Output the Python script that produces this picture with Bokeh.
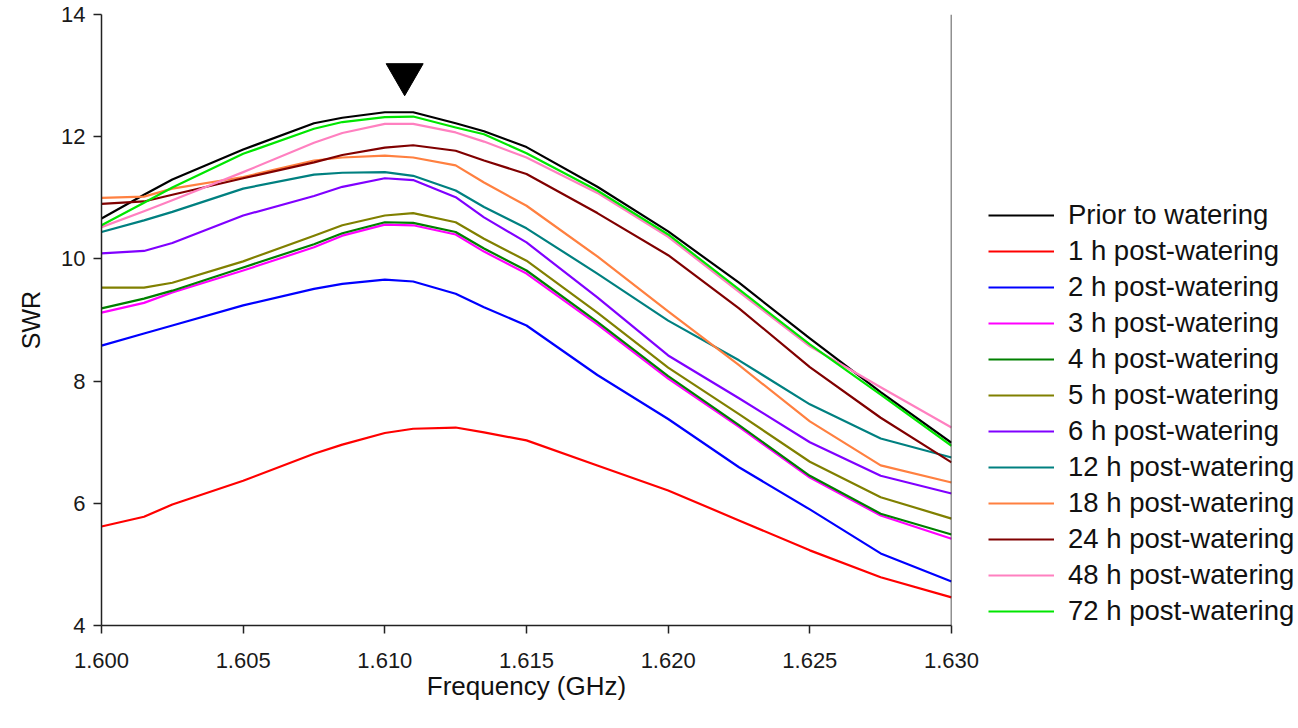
from bokeh.plotting import figure
from bokeh.models import Range1d, FixedTicker, PrintfTickFormatter, Legend, LegendItem, Span
from bokeh.embed import file_html
from bokeh.resources import INLINE

# ---- data ----
freq = [1.600, 1.6015, 1.6025, 1.605, 1.6075, 1.6085, 1.610, 1.611, 1.6125, 1.6135,
        1.615, 1.6175, 1.620, 1.6225, 1.625, 1.6275, 1.630]

prior = [10.66, 11.05, 11.30, 11.79, 12.22, 12.31, 12.40, 12.40, 12.22, 12.09, 11.83, 11.18, 10.45, 9.61, 8.70, 7.82, 6.99]
h1 = [5.62, 5.78, 5.98, 6.37, 6.81, 6.96, 7.15, 7.22, 7.24, 7.16, 7.03, 6.62, 6.21, 5.72, 5.23, 4.79, 4.46]
h2 = [8.58, 8.78, 8.91, 9.24, 9.51, 9.59, 9.66, 9.63, 9.43, 9.21, 8.91, 8.10, 7.38, 6.59, 5.90, 5.18, 4.72]
h3 = [9.12, 9.28, 9.45, 9.81, 10.19, 10.38, 10.56, 10.55, 10.40, 10.12, 9.76, 8.93, 8.04, 7.25, 6.42, 5.80, 5.42]
h4 = [9.19, 9.35, 9.48, 9.86, 10.24, 10.42, 10.60, 10.59, 10.44, 10.17, 9.81, 8.97, 8.08, 7.28, 6.45, 5.83, 5.49]
h5 = [9.53, 9.53, 9.61, 9.96, 10.38, 10.55, 10.71, 10.75, 10.60, 10.33, 9.97, 9.12, 8.22, 7.46, 6.68, 6.10, 5.75]
h6 = [10.09, 10.13, 10.26, 10.71, 11.03, 11.18, 11.32, 11.29, 11.01, 10.68, 10.27, 9.37, 8.42, 7.72, 7.00, 6.45, 6.16]
h12 = [10.44, 10.63, 10.77, 11.15, 11.38, 11.41, 11.42, 11.36, 11.12, 10.85, 10.50, 9.76, 8.99, 8.34, 7.62, 7.06, 6.75]
h18 = [11.00, 11.02, 11.15, 11.34, 11.61, 11.66, 11.69, 11.66, 11.53, 11.25, 10.87, 10.04, 9.14, 8.26, 7.34, 6.62, 6.34]
h24 = [10.90, 10.94, 11.05, 11.32, 11.58, 11.70, 11.82, 11.86, 11.77, 11.61, 11.39, 10.75, 10.06, 9.19, 8.23, 7.40, 6.67]
h48 = [10.52, 10.78, 10.96, 11.42, 11.90, 12.06, 12.21, 12.21, 12.07, 11.92, 11.66, 11.08, 10.36, 9.46, 8.57, 7.90, 7.24]
h72 = [10.55, 10.92, 11.17, 11.72, 12.13, 12.24, 12.32, 12.33, 12.15, 12.04, 11.73, 11.12, 10.40, 9.50, 8.60, 7.78, 6.94]

labels = ["Prior to watering", "1 h post-watering", "2 h post-watering", "3 h post-watering",
          "4 h post-watering", "5 h post-watering", "6 h post-watering", "12 h post-watering",
          "18 h post-watering", "24 h post-watering", "48 h post-watering", "72 h post-watering"]
series = [prior, h1, h2, h3, h4, h5, h6, h12, h18, h24, h48, h72]
colors = ["#000000", "#ff0000", "#0000ff", "#ff00ff", "#008000", "#808000",
          "#8000ff", "#008080", "#ff8040", "#800000", "#ff80c0", "#00e600"]

x_ticks = [1.600, 1.605, 1.610, 1.615, 1.620, 1.625, 1.630]
y_ticks = [4, 6, 8, 10, 12, 14]

marker_freq = [1.6107]
marker_swr = [13.02]

FONT = "Liberation Sans"

p = figure(frame_width=850, frame_height=611,
           x_range=Range1d(1.600, 1.630), y_range=Range1d(4, 14),
           output_backend="svg", toolbar_location=None,
           min_border_left=101, min_border_top=14, min_border_bottom=80, min_border_right=345)

renderers = []
for ys, c in zip(series, colors):
    r = p.line(freq, ys, line_color=c, line_width=2.2, line_join="round")
    renderers.append(r)

p.scatter(marker_freq, marker_swr, marker="inverted_triangle", size=37,
          fill_color="black", line_color="black")

p.grid.visible = False
p.outline_line_color = None
p.add_layout(Span(location=1.630, dimension="height", line_color="#222222", line_width=1.5))

for ax in (p.xaxis[0], p.yaxis[0]):
    ax.axis_line_color = "#222222"
    ax.axis_line_width = 1.5
    ax.major_tick_line_color = "#222222"
    ax.major_tick_line_width = 1.5
    ax.major_tick_out = 8
    ax.major_tick_in = 0
    ax.minor_tick_out = 0
    ax.minor_tick_in = 0
    ax.major_label_text_font = FONT
    ax.major_label_text_font_size = "22px"
    ax.major_label_text_color = "#1a1a1a"
    ax.axis_label_text_font = FONT
    ax.axis_label_text_font_style = "normal"
    ax.axis_label_text_color = "#111111"

p.xaxis.ticker = FixedTicker(ticks=x_ticks)
p.xaxis.formatter = PrintfTickFormatter(format="%.3f")
p.xaxis.axis_label = "Frequency (GHz)"
p.xaxis.axis_label_text_font_size = "26px"
p.xaxis.major_label_standoff = 19
p.xaxis.axis_label_standoff = 0

p.yaxis.ticker = FixedTicker(ticks=y_ticks)
p.yaxis.axis_label = "SWR"
p.yaxis.axis_label_text_font_size = "25px"
p.yaxis.major_label_standoff = 8
p.yaxis.axis_label_standoff = 13

items = [LegendItem(label=l, renderers=[r]) for l, r in zip(labels, renderers)]
legend = Legend(items=items, location=(37, -4),
                label_text_font=FONT, label_text_font_size="27.5px", label_text_color="#111111",
                glyph_width=66, glyph_height=36, label_height=36, label_standoff=14,
                spacing=0, padding=0, margin=0,
                border_line_color=None, background_fill_alpha=0)
p.add_layout(legend, "right")

open("out.html", "w").write(file_html(p, INLINE))
